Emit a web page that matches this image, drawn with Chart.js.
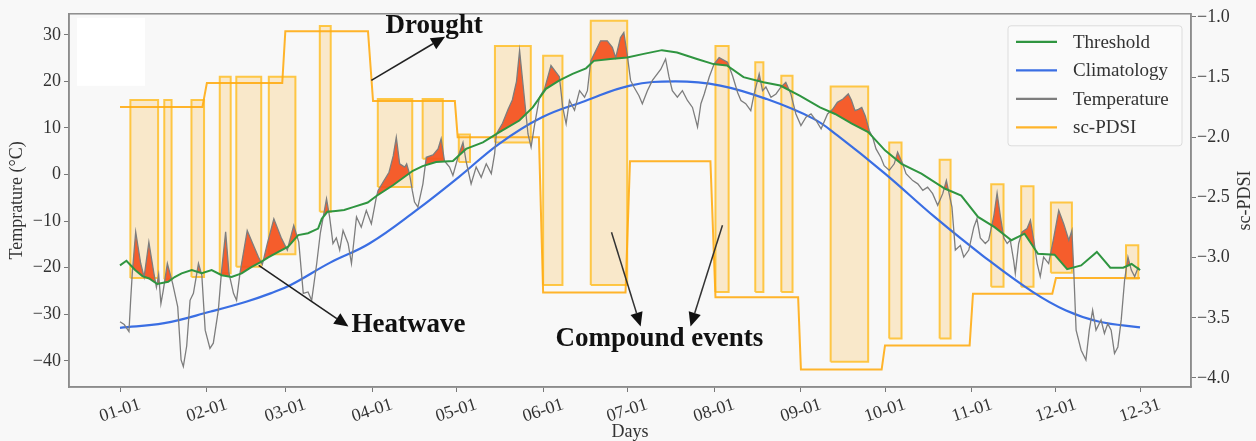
<!DOCTYPE html>
<html>
<head>
<meta charset="utf-8">
<title>Heatwave, drought and compound events</title>
<script src="https://cdn.jsdelivr.net/npm/chart.js@4.4.0/dist/chart.umd.min.js"></script>
<style>
  body { margin: 0; background: #f8f8f8; }
  #wrap { width: 1256px; height: 441px; }
</style>
</head>
<body>
<div id="wrap"><canvas id="myChart"></canvas></div>
<script>
// x axis: day of year, ticks on month starts
const tickDays = [0, 31, 59, 90, 120, 151, 181, 212, 243, 273, 304, 334, 364];
const tickLabels = ['01-01', '02-01', '03-01', '04-01', '05-01', '06-01', '07-01',
                    '08-01', '09-01', '10-01', '11-01', '12-01', '12-31'];
const tempTicks = [-40, -30, -20, -10, 0, 10, 20, 30];
const pdsiTicks = [-4.0, -3.5, -3.0, -2.5, -2.0, -1.5, -1.0];

// climatology (°C)
const climDays = [0, 15.8, 32.4, 45, 53.7, 60.9, 75, 89, 105.7, 121, 135.3, 150.6, 166,
                  182, 198.2, 214.2, 230.8, 247.4, 256, 273, 290.7, 308.5, 325.7, 337.6, 349.5, 364];
const climVals = [-32.9, -31.9, -29.4, -27.3, -25.5, -23.7, -18.9, -14.8, -7.7, -0.5, 6.6, 12.3, 15.8,
                  19.1, 20.0, 19.1, 16.2, 12.0, 8.4, 0.2, -9.1, -17.7, -25.2, -29.2, -31.6, -32.8];

// heatwave threshold (°C)
const threshDays = [0, 2.3, 5.4, 8, 10.4, 13.3, 17.2, 19.5, 22, 25.6,
                    29.2, 32.7, 36.3, 39.8, 43.4, 47, 50.5, 52.9, 56.5, 60,
                    63.6, 67.1, 70.7, 72, 74, 77, 80, 83.2, 88.4, 91.5,
                    97.4, 104.5, 108, 112.8, 118.8, 123.5, 129.5, 135.4, 142.5, 147.3,
                    152, 156.8, 161.5, 166.3, 169.1, 175, 181, 186.9, 193.4, 198.8,
                    205.9, 211.8, 216.6, 222.5, 229.6, 235.6, 242.7, 249.8, 255.2, 261,
                    267, 273, 278.9, 286, 294.3, 300.2, 306.2, 312.1, 318.1, 322.8,
                    327.6, 333.5, 338, 343, 348.6, 353.4, 358, 361, 364];
const threshVals = [-19.5, -18.5, -20.5, -21.8, -22.3, -23.5, -23, -22, -21.2, -20.5,
                    -21.2, -20.5, -21.6, -22, -21.2, -19.8, -18.7, -17.8, -16.6, -15.5,
                    -13, -12.6, -11.6, -9.5, -8, -7.8, -7.6, -7, -6, -4.6,
                    -2.3, 0.8, 1.8, 2.7, 2.9, 5.5, 6.9, 9.1, 11.6, 14.4,
                    18.4, 20.2, 21.6, 22.8, 24.4, 24.8, 25.1, 25.9, 26.7, 26.2,
                    24.8, 23.7, 23.4, 20.9, 19.8, 19.1, 16.9, 14.4, 13, 11,
                    9.1, 5.2, 2.3, 0.2, -3, -4.5, -9.1, -11.3, -14.1, -12.7,
                    -17, -17.2, -20.3, -19.5, -16.6, -20, -20, -19.2, -20.5];

// daily temperature (°C)
const tempDays = [0, 1.5, 3.2, 3.8, 4.4, 5.6, 7.4, 8.6, 10.3, 12.1,
                  13, 13.8, 14.6, 15.4, 16.9, 18.8, 20.6, 21.8, 22.6, 23.8,
                  25, 26.2, 28, 29.2, 30.4, 32.1, 33.3, 35.1, 36.2, 37.7,
                  38.9, 40.5, 41.6, 42.8, 45.4, 47.5, 49.4, 50.8, 52.5, 54.9,
                  57.5, 59.7, 62, 63.8, 65.4, 67.1, 68.4, 70.2, 71.5, 73.7,
                  74.8, 76, 77.2, 78.4, 79.6, 81.4, 82.6, 84.4, 86.1, 87.9,
                  89.7, 91.5, 92.1, 94, 96, 97.5, 98.6, 99.8, 101.6, 102.3,
                  103.3, 104.3, 105.1, 106.3, 108.1, 109.3, 111.7, 113.5, 114.6, 115.8,
                  117.6, 118.8, 120.6, 122.4, 123.5, 125.3, 127.1, 128.9, 130.7, 132.5,
                  133.7, 134.3, 136.5, 138.5, 140, 141.5, 142.6, 144.4, 145.6, 146.7,
                  147.9, 149.7, 151.5, 153.8, 156.8, 158, 159.2, 160.4, 162.2, 164,
                  165.8, 166.8, 168, 171.5, 173.9, 175.7, 176.9, 178.6, 179.8, 181,
                  182.2, 183.4, 185.2, 186.4, 188.2, 190, 193, 194.7, 195.9, 197.1,
                  198.9, 200.7, 202.5, 204.3, 206.1, 207.3, 208.5, 210.3, 212, 213.8,
                  216.8, 218.6, 220.4, 221.6, 223.3, 225.1, 226.3, 228.1, 229.3, 230.5,
                  232.3, 234.1, 235.9, 237.6, 239.4, 241.2, 243, 244.8, 246.6, 248.4,
                  250.2, 252.5, 254.3, 256, 258, 259.9, 261, 262.3, 263.5, 264.7,
                  266, 267.4, 268.6, 269.8, 271.5, 272.7, 274.5, 276.3, 277.5, 279.3,
                  280.5, 282.9, 284.7, 286.5, 288.2, 290, 291.8, 293.6, 294.9, 296.9,
                  298.1, 299.9, 301.1, 302.9, 304.7, 305.8, 307, 308.8, 310, 311.8,
                  313, 314.2, 315.4, 316.6, 317.7, 318.9, 319.5, 320.7, 321.9, 323.7,
                  324.9, 326.1, 327.3, 328.4, 329.6, 331.4, 333.2, 335, 336.8, 338.6,
                  339.7, 340.3, 341.2, 343, 344.7, 345.9, 347.1, 348.3, 350.1, 351.3,
                  352.5, 353.7, 354.9, 356.1, 357.3, 358.5, 359.7, 360.9, 362.1, 363.3,
                  364];
const tempVals = [-31.6, -32.2, -33.7, -27, -21, -12.3, -19.1, -22, -14.5, -21.2,
                  -24.2, -21.5, -27.7, -25, -19.1, -23.4, -28.4, -39.8, -41.2, -36.8,
                  -27, -25.5, -19.1, -21.6, -33.4, -37.3, -36.2, -29.1, -21, -12.3,
                  -21.2, -25.5, -27, -21.2, -12, -15, -17.7, -19.3, -15, -9.5,
                  -13.5, -16.2, -10.9, -14.5, -25.5, -25.2, -27, -19.1, -12.5, -5.2,
                  -9.1, -14.8, -13.6, -16.2, -12, -14.8, -19.1, -9.1, -11.3, -7.7,
                  -10.6, -4.8, -3.4, -1.5, 0.5, 4, 8, 2.3, 1.6, 2.3,
                  0.2, -3.4, -5.9, -7, -2, 3.7, 4.2, 5.5, 7.7, 2.9,
                  1.6, -0.2, 3.7, 6.9, 2.9, -2, 1.6, -0.6, 2.3, 0.2,
                  4.5, 8.7, 11, 14, 16, 20, 26.6, 15.9, 8.7, 5.9,
                  10.5, 16.6, 18.4, 23.4, 21, 14.4, 10.9, 15.9, 13.8, 18,
                  16.6, 18, 24.4, 28.7, 28.7, 27.3, 25.1, 29.4, 30.5, 25.8,
                  20.2, 18.8, 16.9, 15.2, 18, 20.2, 22.6, 24.8, 21, 18,
                  16.6, 18, 15.9, 14.4, 10.2, 15.2, 17.3, 21, 23.7, 25.1,
                  24.1, 21.2, 17.6, 15.9, 15.2, 13.7, 17.3, 21.6, 18, 18.8,
                  16.6, 17.3, 18.8, 19.8, 17.3, 13, 10.5, 12.3, 13, 11.6,
                  9.8, 13, 14, 15.5, 16.2, 17.3, 16, 13.7, 14, 14.4,
                  12.5, 9.4, 8, 5.5, 3.7, 1.9, 0.9, 2.3, 4.8, 2.3,
                  0.2, -1.3, -2, -3.4, -2.7, -4.1, -6.6, -4.1, -1.3, -7,
                  -16.2, -15.2, -17.7, -16.2, -11.3, -9.5, -13.6, -14.8, -14.1, -9,
                  -4, -9.1, -13.6, -14.8, -14.1, -18.4, -21.2, -14.8, -12.3, -11.6,
                  -9.8, -14.1, -19.1, -21.9, -17.7, -19.1, -13.6, -7.7, -10.6, -14.1,
                  -12, -19.8, -33.4, -37.7, -39.8, -33.4, -29.1, -33.4, -31.2, -34.1,
                  -32, -33.4, -38.4, -37, -31.2, -22.7, -17.7, -20.5, -21.9, -20,
                  -20.5];

// sc-PDSI (right axis), step changes
const pdsiDays = [0, 29.4, 31, 57.9, 59, 88.5, 90.3, 119.5, 120.5, 149.5, 151, 180.4,
                  182, 210.7, 212.5, 242, 243, 271.8, 273, 303.2, 304.4, 332.7, 334, 364];
const pdsiVals = [-1.75, -1.75, -1.55, -1.55, -1.12, -1.12, -1.70, -1.70, -2.0, -2.0, -3.29, -3.29,
                  -2.2, -2.2, -3.33, -3.33, -3.93, -3.93, -3.73, -3.73, -3.30, -3.30, -3.17, -3.17];

// event boxes: start day, end day, top and bottom (°C axis)
const boxStart  = [3.7, 15.8, 25.5, 35.6, 41.5, 53.1, 71.3, 92, 108, 120.9, 133.8, 151,
                   168, 212.5, 226.7, 236, 253.6, 274.5, 292.5, 310.9, 321.6, 332.2, 359];
const boxEnd    = [13.6, 18.4, 30.0, 39.5, 50.4, 62.6, 75.2, 104.3, 115.2, 124.9, 146.6, 157.9,
                   181, 217.2, 229.6, 240, 267, 278.9, 296.4, 315.3, 326, 339.7, 363.4];
const boxTop    = [16.0, 16.0, 16.0, 21.0, 21.0, 21.0, 31.9, 16.2, 16.2, 8.6, 27.6, 25.5,
                   33.0, 27.6, 24.1, 21.2, 18.9, 6.9, 3.2, -2.1, -2.5, -6.0, -15.2];
const boxBottom = [-22.2, -22.5, -22.0, -21.2, -19.8, -17.1, -8.0, -2.7, 3.4, 2.7, 6.9, -23.7,
                   -23.7, -25.2, -25.2, -25.2, -40.2, -35.2, -35.2, -24.1, -24.1, -21.1, -22.3];

const serif = '"Liberation Serif", "Times New Roman", serif';
const pts = (xs, ys) => xs.map((x, i) => ({x: x, y: ys[i]}));
const minus = s => s.replace('-', '\u2212');

let datasets = [
  { label: 'Threshold', data: pts(threshDays, threshVals), borderColor: '#2f9540',
    borderWidth: 2, yAxisID: 'y', order: 1 },
  { label: 'Climatology', data: pts(climDays, climVals), borderColor: '#3a6ee3',
    borderWidth: 2.2, tension: 0.4, yAxisID: 'y', order: 4 },
  { label: 'Temperature', data: pts(tempDays, tempVals), borderColor: '#7d7d7d',
    borderWidth: 1.3, yAxisID: 'y', order: 2,
    fill: { target: 0, above: 'rgba(244,80,30,0.92)', below: 'rgba(0,0,0,0)' } },
  { label: 'sc-PDSI', data: pts(pdsiDays, pdsiVals), borderColor: 'rgba(255,172,20,0.9)',
    borderWidth: 2, yAxisID: 'y1', order: 5 }
];
boxStart.forEach((s, i) => {
  datasets.push({
    label: '', yAxisID: 'y', order: 6, fill: 'shape',
    data: [{x: s, y: boxBottom[i]}, {x: s, y: boxTop[i]}, {x: boxEnd[i], y: boxTop[i]},
           {x: boxEnd[i], y: boxBottom[i]}, {x: s, y: boxBottom[i]}],
    borderColor: 'rgba(255,190,40,0.85)', borderWidth: 2,
    backgroundColor: 'rgba(255,170,20,0.2)'
  });
});

function arrow(ctx, x0, y0, x1, y1, head) {
  const a = Math.atan2(y1 - y0, x1 - x0);
  const bx = x1 - head * Math.cos(a), by = y1 - head * Math.sin(a);
  const w = head * 0.45;
  ctx.beginPath(); ctx.moveTo(x0, y0); ctx.lineTo(bx, by); ctx.stroke();
  ctx.beginPath(); ctx.moveTo(x1, y1);
  ctx.lineTo(bx + w * Math.sin(a), by - w * Math.cos(a));
  ctx.lineTo(bx - w * Math.sin(a), by + w * Math.cos(a));
  ctx.closePath(); ctx.fill();
}

const decor = {
  id: 'decor',
  beforeDraw(chart) {
    const {ctx, chartArea: a} = chart;
    ctx.save();
    ctx.fillStyle = '#f8f8f8';
    ctx.fillRect(0, 0, chart.width, chart.height);
    ctx.fillStyle = '#ffffff';
    ctx.fillRect(a.left + 8, a.top + 4, 68, 68);
    ctx.restore();
  },
  afterDraw(chart) {
    const {ctx, chartArea: a, scales} = chart;
    const X = d => scales.x.getPixelForValue(d);
    const Y = v => scales.y.getPixelForValue(v);
    ctx.save();
    // frame
    ctx.strokeStyle = '#8c8c8c';
    ctx.lineWidth = 1.5;
    ctx.strokeRect(a.left, a.top, a.right - a.left, a.bottom - a.top);

    // axis titles
    ctx.fillStyle = '#333';
    ctx.font = '18px ' + serif;
    ctx.textAlign = 'center';
    ctx.textBaseline = 'middle';
    ctx.fillText('Days', (a.left + a.right) / 2, chart.height - 9);
    ctx.save();
    ctx.translate(17, (a.top + a.bottom) / 2);
    ctx.rotate(-Math.PI / 2);
    ctx.fillText('Temprature (\u00b0C)', 0, 0);
    ctx.restore();
    ctx.save();
    ctx.translate(chart.width - 11, (a.top + a.bottom) / 2);
    ctx.rotate(-Math.PI / 2);
    ctx.fillText('sc-PDSI', 0, 0);
    ctx.restore();

    // legend
    const lx = a.right - 183, ly = a.top + 12, lw = 174, lh = 120;
    ctx.fillStyle = 'rgba(250,250,250,0.85)';
    ctx.strokeStyle = '#dcdcdc';
    ctx.lineWidth = 1;
    ctx.beginPath();
    ctx.roundRect(lx, ly, lw, lh, 3);
    ctx.fill(); ctx.stroke();
    ctx.font = '19px ' + serif;
    ctx.textAlign = 'left';
    chart.data.datasets.slice(0, 4).forEach((ds, i) => {
      const ry = ly + 16 + i * 28.5;
      ctx.strokeStyle = ds.borderColor;
      ctx.lineWidth = 2.2;
      ctx.beginPath(); ctx.moveTo(lx + 8, ry); ctx.lineTo(lx + 49, ry); ctx.stroke();
      ctx.fillStyle = '#333';
      ctx.fillText(ds.label, lx + 65, ry + 1);
    });

    // annotations
    ctx.fillStyle = '#111';
    ctx.strokeStyle = '#222';
    ctx.lineWidth = 1.6;
    arrow(ctx, X(89.7), Y(20.2), X(116), Y(29.6), 14);
    arrow(ctx, X(49.5), Y(-19.5), X(81.5), Y(-32.6), 14);
    ctx.strokeStyle = '#333';
    ctx.lineWidth = 1.5;
    arrow(ctx, X(175.4), Y(-12.4), X(185.8), Y(-32.6), 14);
    arrow(ctx, X(215), Y(-10.9), X(203.6), Y(-32.6), 14);
    ctx.font = 'bold 27px ' + serif;
    ctx.textAlign = 'center';
    ctx.fillText('Drought', X(112.1), Y(31.9));
    ctx.textAlign = 'left';
    ctx.fillText('Heatwave', X(82.6), Y(-32.3));
    ctx.textAlign = 'center';
    ctx.fillText('Compound events', X(192.5), Y(-35.3));
    ctx.restore();
  }
};

const tickFont = { family: serif, size: 18 };

new Chart(document.getElementById('myChart'), {
  type: 'line',
  data: { datasets: datasets },
  options: {
    responsive: true,
    maintainAspectRatio: false,
    animation: false,
    layout: { padding: { top: 13, left: 0, right: 0, bottom: 0 } },
    elements: { point: { radius: 0 }, line: { borderJoinStyle: 'miter' } },
    plugins: { legend: { display: false }, tooltip: { enabled: false } },
    scales: {
      x: {
        type: 'linear', min: -18.2, max: 382.2,
        afterBuildTicks: s => { s.ticks = tickDays.map(v => ({value: v})); },
        afterFit: s => { s.height = 54; },
        ticks: {
          callback: (v, i) => tickLabels[i], autoSkip: false,
          minRotation: 18, maxRotation: 18, labelOffset: 20, padding: 2,
          font: tickFont, color: '#333'
        },
        grid: { drawOnChartArea: false, drawTicks: true, tickLength: 5, tickColor: '#777' },
        border: { color: '#8c8c8c', width: 1.5 }
      },
      y: {
        position: 'left', min: -45.6, max: 34.5,
        afterBuildTicks: s => { s.ticks = tempTicks.map(v => ({value: v})); },
        afterFit: s => { s.width = 69; },
        ticks: { callback: v => minus(String(v)), font: tickFont, color: '#333', padding: 3 },
        grid: { drawOnChartArea: false, drawTicks: true, tickLength: 5, tickColor: '#777' },
        border: { color: '#8c8c8c', width: 1.5 }
      },
      y1: {
        position: 'right', min: -4.075, max: -0.975,
        afterBuildTicks: s => { s.ticks = pdsiTicks.map(v => ({value: v})); },
        afterFit: s => { s.width = 65; },
        ticks: { callback: v => minus(v.toFixed(1)), font: tickFont, color: '#333', padding: 1 },
        grid: { drawOnChartArea: false, drawTicks: true, tickLength: 5, tickColor: '#777' },
        border: { color: '#8c8c8c', width: 1.5 }
      }
    }
  },
  plugins: [decor]
});
</script>
</body>
</html>
